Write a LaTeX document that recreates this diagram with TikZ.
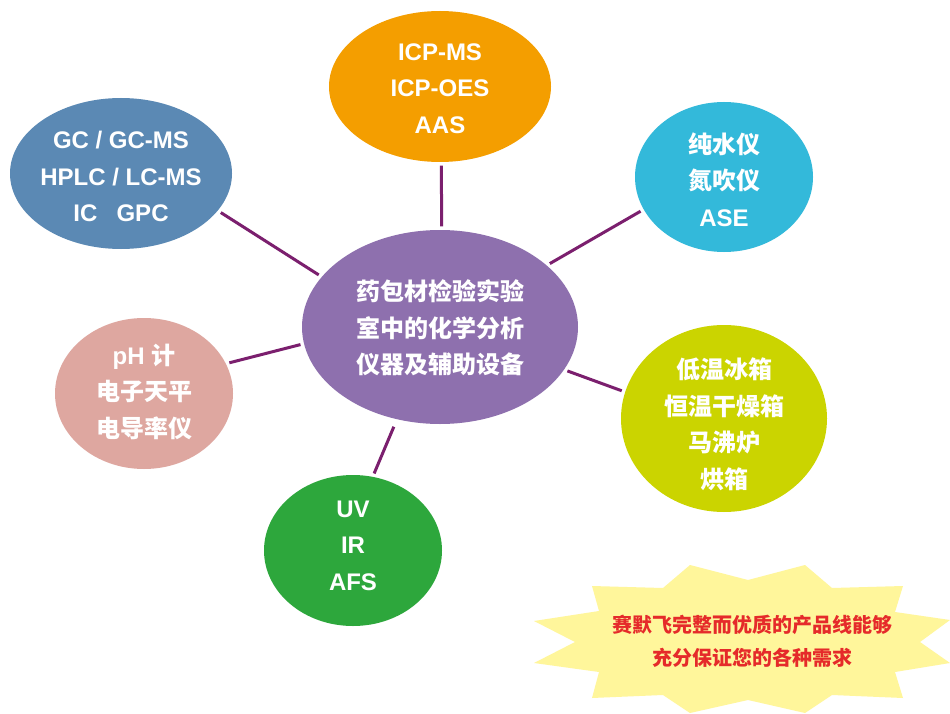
\documentclass[tikz,border=0pt]{standalone}
\usepackage{fontspec}
\setmainfont{Liberation Sans}
\newfontfamily\cjk{Noto Sans CJK SC}
\usetikzlibrary{shapes.geometric}
\definecolor{orangec}{HTML}{F49E00}
\definecolor{bluec}{HTML}{5B89B4}
\definecolor{cyanc}{HTML}{33B9DA}
\definecolor{pinkc}{HTML}{DEA7A0}
\definecolor{greenc}{HTML}{2DA73C}
\definecolor{limec}{HTML}{CBD400}
\definecolor{purplec}{HTML}{8E70AE}
\definecolor{linec}{HTML}{7B1F6E}
\definecolor{starc}{HTML}{FFF69B}
\definecolor{redc}{HTML}{E52A2A}
\begin{document}
\begin{tikzpicture}[x=1pt,y=-1pt,
  blob/.style={ellipse, inner sep=0pt, draw=none},
  txt/.style={text=white, align=center, inner sep=0pt, font=\fontsize{24}{36.5}\selectfont\bfseries},
  txtc/.style={txt, font=\cjk\fontsize{24}{36.5}\selectfont\bfseries},
  link/.style={draw=linec, line width=3pt, shorten <=3.5pt, shorten >=3.5pt}]
\fill[white] (0,0) rectangle (950,714);
\useasboundingbox (0,0) rectangle (950,714);
% ellipses
\node[blob, fill=purplec, minimum width=276pt, minimum height=194pt] (c) at (440,327) {};
\node[blob, fill=orangec, minimum width=222pt, minimum height=151pt] (icp) at (440,86.5) {};
\node[blob, fill=bluec, minimum width=222pt, minimum height=151pt] (gc) at (121,173.5) {};
\node[blob, fill=cyanc, minimum width=178pt, minimum height=150pt] (pure) at (724,177) {};
\node[blob, fill=pinkc, minimum width=178pt, minimum height=151pt] (ph) at (144,393.5) {};
\node[blob, fill=greenc, minimum width=178pt, minimum height=151pt] (uv) at (353,550.5) {};
\node[blob, fill=limec, minimum width=206pt, minimum height=187pt] (oven) at (724,418.5) {};
% texts
\node[txtc] (c-t) at (440,328) {药包材检验实验\\室中的化学分析\\仪器及辅助设备};
\node[txt] (icp-t) at (440,88.5) {ICP-MS\\ICP-OES\\AAS};
\node[txt] (gc-t) at (121,176.5) {GC / GC-MS\\HPLC / LC-MS\\IC\hspace{0.8em}GPC};
\node[txt] (pure-t) at (724,179.5) {{\cjk 纯水仪}\\{\cjk 氮吹仪}\\ASE};
\node[txt] (ph-t) at (144,391.5) {pH {\cjk 计}\\{\cjk 电子天平}\\{\cjk 电导率仪}};
\node[txt] (uv-t) at (353,545.5) {UV\\IR\\AFS};
\node[txtc] (oven-t) at (724,424.5) {低温冰箱\\恒温干燥箱\\马沸炉\\烘箱};
% connectors
\draw[link] (gc.-21) -- (c.157);
\draw[link] (icp.-89) -- (c.89);
\draw[link] (pure.202) -- (c.30.5);
\draw[link] (ph.20.3) -- (c.187.3);
\draw[link, shorten >=8pt] (uv.75.3) -- (c.245.6);
\draw[link] (oven.165) -- (c.-19);
% starburst
\fill[starc] (690,565) -- (748,580) -- (805,565) -- (832,588) -- (903,586) -- (895,612) -- (950,620) -- (920,642) -- (950,663) -- (895,672) -- (903,698) -- (832,695) -- (805,713) -- (748,700) -- (690,713) -- (663,695) -- (592,698) -- (599,672) -- (534,663) -- (575,642) -- (534,621) -- (599,611) -- (592,586) -- (663,588) -- cycle;
\node[text=redc, align=center, inner sep=0pt, font=\cjk\fontsize{20}{33}\selectfont\bfseries] (slogan) at (752.5,641.5) {赛默飞完整而优质的产品线能够\\充分保证您的各种需求};
\end{tikzpicture}
\end{document}
